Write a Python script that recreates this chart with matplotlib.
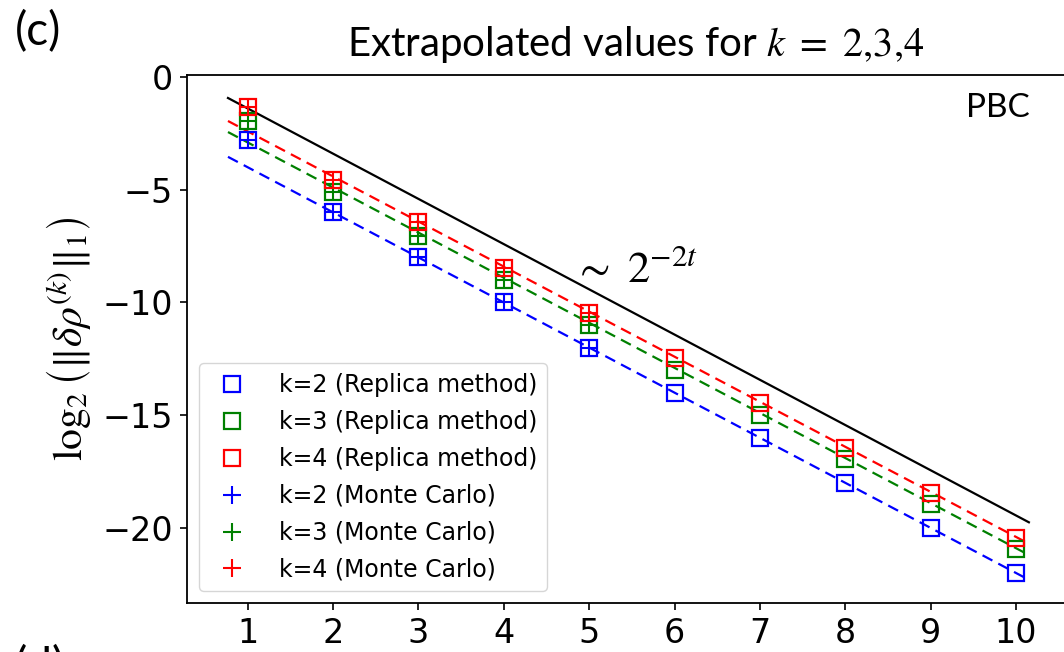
import numpy as np
import matplotlib
matplotlib.use("Agg")
import matplotlib.pyplot as plt

plt.rcParams['mathtext.fontset'] = 'stix'

# data
t = [1, 2, 3, 4, 5, 6, 7, 8, 9, 10]
replica_k2 = [-2.8, -6.0, -8.0, -10.0, -12.0, -14.0, -16.0, -18.0, -20.0, -22.0]
replica_k3 = [-1.95, -5.1, -7.05, -9.0, -11.0, -13.0, -15.0, -16.95, -18.95, -20.95]
replica_k4 = [-1.35, -4.55, -6.45, -8.45, -10.45, -12.45, -14.45, -16.45, -18.45, -20.45]

t_mc = [1, 2, 3, 4, 5]
mc_k2 = [-2.8, -6.0, -8.0, -10.0, -12.0]
mc_k3 = [-1.95, -5.1, -7.05, -9.0, -11.0]
mc_k4 = [-1.35, -4.55, -6.45, -8.45, -10.45]

# fitted lines (end points)
t_fit = [0.77, 10.15]
fit_k2 = [-3.54, -22.3]
fit_k3 = [-2.44, -21.2]
fit_k4 = [-1.95, -20.7]
ref_line = [-0.93, -19.75]  # ~ 2^{-2t}

colors = ['blue', 'green', 'red']
ks = [2, 3, 4]

fig = plt.figure(figsize=(10.64, 6.52), dpi=100)
ax = fig.add_axes([187/1064, 49/652, 882/1064, 528/652])

for c, yf in zip(colors, [fit_k2, fit_k3, fit_k4]):
    ax.plot(t_fit, yf, '--', color=c, lw=1.6, dashes=(5, 3))
ax.plot(t_fit, ref_line, '-', color='black', lw=1.6)

for c, k, y in zip(colors, ks, [replica_k2, replica_k3, replica_k4]):
    ax.plot(t, y, 's', mfc='none', mec=c, ms=12, mew=1.6, ls='none',
            label=f'k={k} (Replica method)')
for c, k, y in zip(colors, ks, [mc_k2, mc_k3, mc_k4]):
    ax.plot(t_mc, y, '+', color=c, ms=13, mew=1.5, ls='none',
            label=f'k={k} (Monte Carlo)')

ax.set_xlim(0.29, 10.62)
ax.set_ylim(-23.33, 0.09)
ax.set_xticks(t)
ax.set_yticks([0, -5, -10, -15, -20])
ax.tick_params(labelsize=24, length=5, width=1.2, pad=5)
for s in ax.spines.values():
    s.set_linewidth(1.3)

ax.set_ylabel(r'$\log_2\left(\|\delta\rho^{(k)}\|_1\right)$', fontsize=30, labelpad=6)

ax.text(4.81, -9.1, r'$\sim\ 2^{-2t}$', fontsize=32, ha='left', va='baseline')
ax.text(10.16, -1.77, 'PBC', fontsize=24, family='Lato', ha='right', va='baseline')

ax.legend(loc='lower left', fontsize=17, handletextpad=1.0, labelspacing=0.55,
          borderaxespad=0.5, bbox_to_anchor=(0.0, 0.0))

fig.text(636/1064, 1 - 56/652, r'Extrapolated values for $k\ =\ 2{,}3{,}4$', fontsize=29,
         family='Lato', ha='center', va='baseline')
fig.text(15/1064, 1 - 45/652, '(c)', fontsize=33, family='Lato', ha='left', va='baseline')
fig.text(15/1064, 1 - 680/652, '(d)', fontsize=33, family='Lato', ha='left', va='baseline')

fig.savefig('out.png', dpi=100)
